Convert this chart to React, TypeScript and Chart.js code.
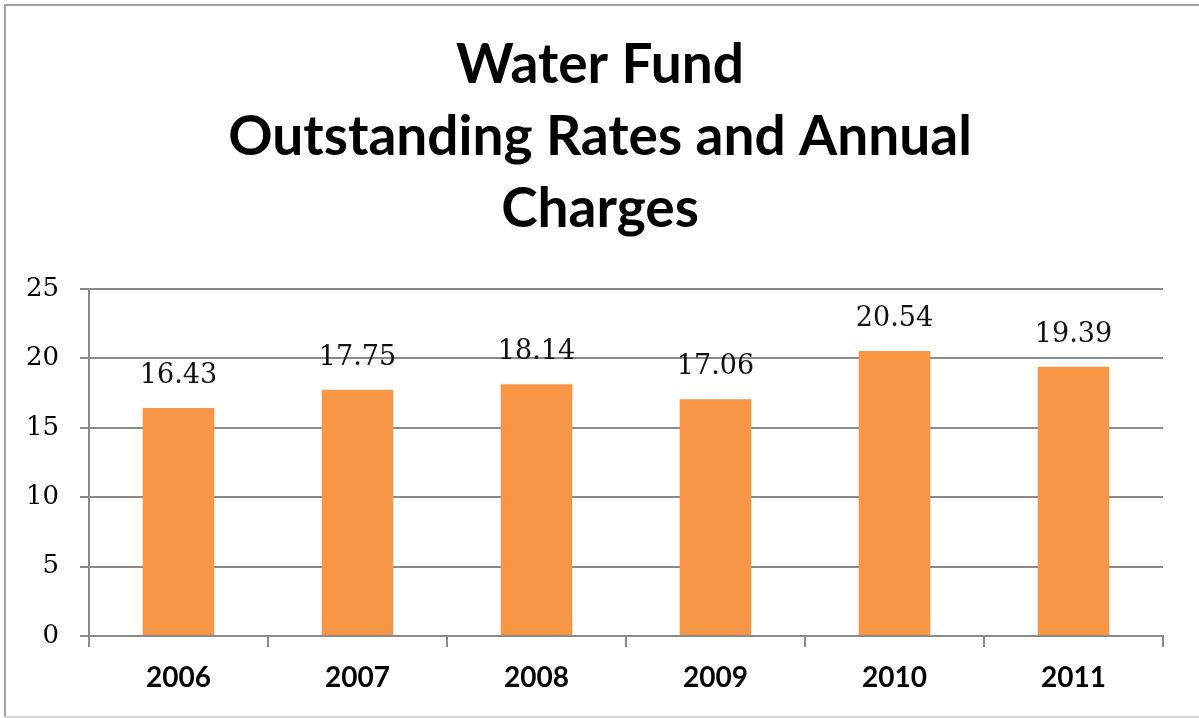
import React, { useEffect, useRef } from "react";
import { Chart, registerables } from "chart.js";

Chart.register(...registerables);

const titleLines = ["Water Fund", "Outstanding Rates and Annual", "Charges"];
const categories = ["2006", "2007", "2008", "2009", "2010", "2011"];
const values = [16.43, 17.75, 18.14, 17.06, 20.54, 19.39];
const yMin = 0;
const yMax = 25;
const yStep = 5;

const GRID = "#8a8a8a";

const framePlugin = {
  id: "frame",
  beforeDraw(chart: any) {
    const ctx = chart.ctx;
    ctx.save();
    ctx.fillStyle = "#ffffff";
    ctx.fillRect(0, 0, chart.width, chart.height);
    ctx.strokeStyle = "#a3a3a3";
    ctx.lineWidth = 2;
    ctx.beginPath();
    ctx.moveTo(5, 717);
    ctx.lineTo(5, 5);
    ctx.lineTo(1199, 5);
    ctx.stroke();
    ctx.strokeStyle = "#d6d6d6";
    ctx.beginPath();
    ctx.moveTo(5, 717);
    ctx.lineTo(1199, 717);
    ctx.stroke();
    ctx.restore();
  },
};

const titlePlugin = {
  id: "centeredTitle",
  afterDraw(chart: any) {
    const ctx = chart.ctx;
    ctx.save();
    ctx.font = "bold 55px Lato";
    ctx.fillStyle = "#000000";
    ctx.textAlign = "center";
    ctx.textBaseline = "middle";
    titleLines.forEach((line, i) => {
      ctx.fillText(line, 600, 65 + i * 72);
    });
    ctx.restore();
  },
};

const labelPlugin = {
  id: "valueLabels",
  afterDatasetsDraw(chart: any) {
    const ctx = chart.ctx;
    const meta = chart.getDatasetMeta(0);
    ctx.save();
    ctx.font = "27px 'DejaVu Serif'";
    ctx.fillStyle = "#111111";
    ctx.textAlign = "center";
    ctx.textBaseline = "alphabetic";
    meta.data.forEach((bar: any, i: number) => {
      const v = chart.data.datasets[0].data[i] as number;
      ctx.fillText(v.toFixed(2), bar.x, bar.y - 25);
    });
    ctx.restore();
  },
};

export default function App() {
  const ref = useRef<HTMLCanvasElement | null>(null);
  useEffect(() => {
    if (!ref.current) return;
    const chart = new Chart(ref.current, {
      type: "bar",
      data: {
        labels: categories,
        datasets: [
          {
            data: values,
            backgroundColor: "#F79646",
            borderWidth: 0,
            barPercentage: 0.4,
            categoryPercentage: 1,
          },
        ],
      },
      options: {
        responsive: false,
        animation: false,
        layout: { padding: { top: 289, right: 36, bottom: 0, left: 0 } },
        plugins: {
          legend: { display: false },
          tooltip: { enabled: false },
          title: { display: false },
        },
        scales: {
          x: {
            offset: true,
            grid: {
              display: true,
              drawOnChartArea: false,
              drawTicks: true,
              tickLength: 11,
              color: GRID,
              lineWidth: 2,
              offset: true,
            },
            border: { display: true, color: GRID, width: 2 },
            ticks: {
              color: "#000000",
              font: { family: "Lato", weight: "bold", size: 28 },
              padding: 14,
            },
            afterFit(scale: any) {
              scale.height = 82;
            },
          },
          y: {
            min: yMin,
            max: yMax,
            ticks: {
              stepSize: yStep,
              color: "#000000",
              font: { family: "DejaVu Serif", size: 26 },
              padding: 21,
            },
            grid: {
              color: GRID,
              lineWidth: 2,
              tickLength: 9,
              drawTicks: true,
            },
            border: { display: true, color: GRID, width: 2 },
            afterFit(scale: any) {
              scale.width = 89;
            },
          },
        },
      },
      plugins: [framePlugin, labelPlugin, titlePlugin],
    });
    return () => chart.destroy();
  }, []);
  return (
    <div style={{ position: "absolute", left: 0, top: 0, width: 1199, height: 718, overflow: "hidden" }}>
      <canvas ref={ref} width={1199} height={718} style={{ display: "block" }} />
    </div>
  );
}
